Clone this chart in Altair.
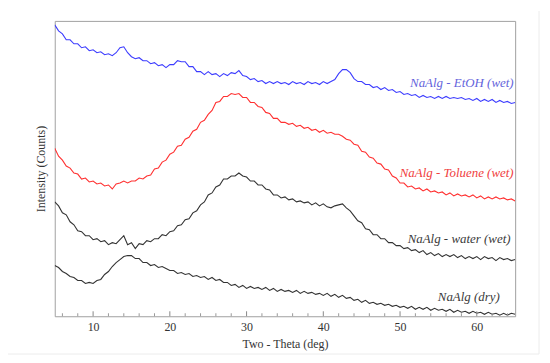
import altair as alt
import pandas as pd

# 2-theta grid (deg), 0.5 deg steps from 5 to 65
two_theta = [5 + 0.5 * i for i in range(121)]

etoh = [
    293, 287, 284, 278, 278, 274, 274, 270, 271, 267,
    268, 265, 266, 263, 264, 262, 265, 270, 271, 265,
    261, 259, 260, 257, 257, 254, 255, 252, 253, 250,
    253, 253, 257, 256, 256, 251, 251, 246, 246, 243,
    246, 243, 244, 241, 244, 242, 245, 244, 247, 242,
    241, 238, 239, 236, 237, 234, 236, 234, 236, 234,
    235, 233, 236, 234, 235, 233, 236, 234, 235, 233,
    236, 234, 236, 238, 244, 248, 248, 245, 239, 236,
    236, 233, 233, 230, 231, 228, 230, 227, 228, 225,
    226, 223, 224, 222, 223, 220, 222, 220, 221, 219,
    221, 219, 221, 219, 220, 219, 220, 218, 219, 217,
    219, 216, 218, 216, 218, 215, 217, 215, 216, 214,
    215,
]
toluene = [
    169, 161, 157, 151, 149, 144, 143, 138, 139, 135,
    136, 133, 134, 131, 132, 128, 133, 134, 136, 134,
    136, 136, 139, 138, 141, 142, 148, 149, 155, 157,
    163, 165, 171, 172, 178, 180, 186, 188, 195, 197,
    203, 207, 215, 216, 221, 221, 224, 223, 224, 220,
    220, 215, 215, 211, 210, 205, 204, 199, 199, 195,
    195, 193, 194, 191, 192, 189, 190, 187, 188, 185,
    187, 184, 185, 183, 183, 181, 178, 177, 173, 172,
    166, 165, 160, 159, 154, 153, 148, 147, 141, 139,
    134, 134, 130, 131, 128, 129, 126, 128, 125, 126,
    124, 125, 122, 124, 121, 123, 121, 122, 120, 122,
    119, 121, 118, 120, 118, 120, 118, 119, 117, 118,
    116,
]
water = [
    115, 111, 104, 102, 95, 92, 86, 85, 81, 81,
    77, 78, 75, 76, 72, 74, 73, 77, 81, 72,
    74, 68, 73, 72, 76, 75, 78, 78, 82, 81,
    85, 86, 91, 92, 97, 98, 104, 106, 112, 115,
    122, 124, 130, 132, 138, 138, 141, 141, 144, 141,
    140, 136, 136, 132, 132, 128, 127, 122, 122, 119,
    120, 117, 118, 115, 116, 114, 115, 112, 114, 111,
    113, 110, 109, 111, 112, 113, 109, 106, 101, 96,
    94, 88, 87, 82, 82, 78, 78, 74, 74, 71,
    71, 68, 69, 66, 67, 64, 66, 62, 64, 61,
    63, 60, 62, 60, 62, 59, 61, 58, 60, 58,
    60, 57, 60, 58, 59, 56, 59, 57, 58, 56,
    57,
]
dry = [
    51, 49, 45, 43, 40, 39, 36, 36, 33, 34,
    33, 36, 37, 42, 45, 50, 54, 57, 60, 61,
    61, 58, 58, 54, 54, 51, 52, 49, 50, 48,
    46, 46, 43, 44, 42, 43, 40, 41, 39, 40,
    37, 39, 36, 37, 34, 34, 31, 32, 29, 31,
    28, 30, 28, 29, 27, 29, 26, 28, 25, 27,
    25, 26, 24, 26, 23, 25, 23, 24, 22, 23,
    21, 23, 20, 22, 19, 21, 18, 19, 16, 17,
    14, 16, 13, 14, 12, 13, 11, 12, 10, 11,
    9, 10, 8, 10, 7, 9, 7, 9, 6, 8,
    6, 7, 5, 7, 4, 6, 4, 5, 3, 5,
    3, 4, 2, 4, 2, 3, 1, 3, 1, 3,
    2,
]

series_names = ["NaAlg - EtOH (wet)", "NaAlg - Toluene (wet)",
                "NaAlg - water (wet)", "NaAlg (dry)"]
line_colors = ["#3c3cff", "#ff3030", "#333333", "#333333"]
label_colors = ["#6464dc", "#f04040", "#3a3a3a", "#3a3a3a"]
label_x = [64.8, 64.8, 64.4, 63.0]
label_y = [235, 144, 78, 19]

major_ticks = [10, 20, 30, 40, 50, 60]
minor_ticks = [6, 8, 12, 14, 16, 18, 22, 24, 26, 28, 32, 34, 36, 38,
               42, 44, 46, 48, 52, 54, 56, 58, 62, 64]

rows = []
for name, vals in zip(series_names, [etoh, toluene, water, dry]):
    for t, v in zip(two_theta, vals):
        rows.append({"theta": t, "counts": v, "series": name})
df = pd.DataFrame(rows)

labels = pd.DataFrame({"series": series_names, "x": label_x, "y": label_y})

W, H = 463, 297
FONT = "'Liberation Serif', 'Times New Roman', 'DejaVu Serif', serif"

xscale = alt.Scale(domain=[5, 65], nice=False, zero=False)
yscale = alt.Scale(domain=[0, 297], nice=False, zero=False)
cscale = alt.Scale(domain=series_names, range=line_colors)
lscale = alt.Scale(domain=series_names, range=label_colors)

lines = alt.Chart(df).mark_line(strokeWidth=1.1, clip=True).encode(
    x=alt.X("theta:Q", scale=xscale,
            axis=alt.Axis(title="Two - Theta (deg)", values=major_ticks,
                          labelFont=FONT, labelFontSize=12, labelColor="#333",
                          titleFont=FONT, titleFontSize=12, titleFontWeight="normal",
                          titleColor="#333", ticks=False, domain=False, grid=False,
                          labelPadding=5, titlePadding=6)),
    y=alt.Y("counts:Q", scale=yscale,
            axis=alt.Axis(title="Intensity (Counts)", labels=False, ticks=False,
                          domain=False, grid=False, titleFont=FONT, titleFontSize=12,
                          titleFontWeight="normal", titleColor="#333", titlePadding=7)),
    color=alt.Color("series:N", scale=cscale, legend=None),
    detail="series:N",
)

texts = alt.Chart(labels).mark_text(
    align="right", baseline="middle", font=FONT, fontSize=13, fontStyle="italic"
).encode(
    x=alt.X("x:Q", scale=xscale),
    y=alt.Y("y:Q", scale=yscale),
    color=alt.Color("series:N", scale=lscale, legend=None),
    text="series:N",
)

major = alt.Chart(pd.DataFrame({"t": major_ticks})).mark_rule(color="#888", strokeWidth=1).encode(
    x=alt.X("t:Q", scale=xscale), y=alt.value(H), y2=alt.value(H - 5))
minor = alt.Chart(pd.DataFrame({"t": minor_ticks})).mark_rule(color="#999", strokeWidth=1).encode(
    x=alt.X("t:Q", scale=xscale), y=alt.value(H), y2=alt.value(H - 3))

one = pd.DataFrame({"a": [0]})
card_r = alt.Chart(one).mark_rule(color="#ececec", strokeWidth=1).encode(
    x=alt.value(487), y=alt.value(-10), y2=alt.value(335))
card_b = alt.Chart(one).mark_rule(color="#ececec", strokeWidth=1).encode(
    x=alt.value(-47), x2=alt.value(487), y=alt.value(335))

chart = alt.layer(card_r, card_b, lines, major, minor, texts).resolve_scale(
    color="independent"
).properties(
    width=W, height=H,
    autosize=alt.AutoSizeParams(type="none"),
    padding={"left": 47, "top": 12, "right": 27, "bottom": 40},
).configure_view(stroke="#a0a0a0", strokeWidth=1)

chart.save("out.html", embed_options={"renderer": "svg", "actions": False})
